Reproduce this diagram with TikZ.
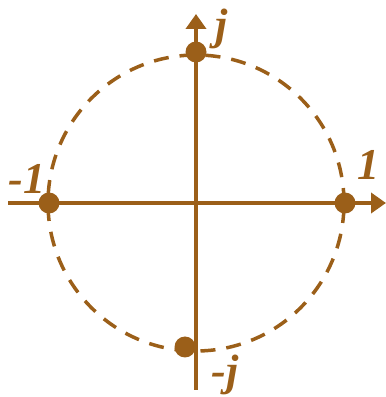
\documentclass[tikz,border=0pt]{standalone}
\usepackage{fontspec}
\setmainfont{Liberation Serif}
\usetikzlibrary{arrows.meta}
\definecolor{brn}{RGB}{155,95,25}
\begin{document}
\begin{tikzpicture}[x=1pt,y=1pt,
  axis/.style={draw=brn,line width=4.5pt,-{Triangle[length=15pt,width=20pt]}},
  dot/.style={circle,fill=brn,inner sep=0pt,minimum size=21pt},
  lbl/.style={text=brn,font=\fontsize{44}{44}\selectfont\bfseries\itshape,inner sep=0pt}]
\useasboundingbox (0,0) rectangle (386,397);
\coordinate (O) at (196,194);
\draw[brn,line width=3.5pt,dash pattern=on 15pt off 11pt] (O) circle (148);
\coordinate (xs) at (8,194);
\coordinate (xe) at (386,194);
\coordinate (ys) at (196,7);
\coordinate (ye) at (196,383);
\draw[axis] (xs) -- (xe);
\draw[axis] (ys) -- (ye);
\node[dot] (pj) at (196,345) {};
\node[dot] (pm1) at (49,194) {};
\node[dot] (p1) at (345,194) {};
\node[dot] (pmj) at (185,50) {};
\node[lbl] (lj) at (222,368) {j};
\node[lbl] (lm1) at (27,218) {-1};
\node[lbl] (l1) at (368,232) {1};
\node[lbl] (lmj) at (225,22) {-j};
\end{tikzpicture}
\end{document}
